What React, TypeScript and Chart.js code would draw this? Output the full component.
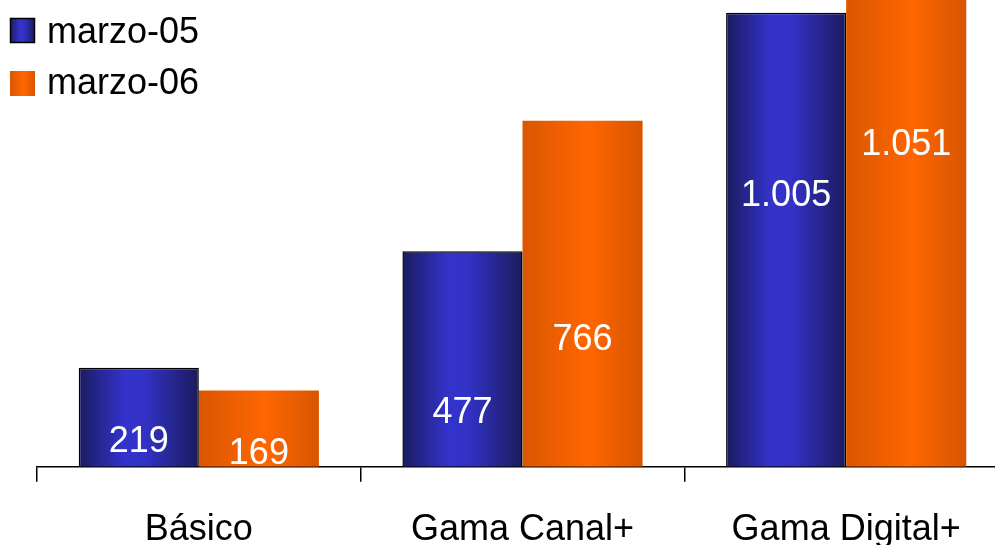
import { useEffect, useRef } from "react";
import { Chart, registerables } from "chart.js";

Chart.register(...registerables);

const categories = ["Básico", "Gama Canal+", "Gama Digital+"];
const seriesNames = ["marzo-05", "marzo-06"];
const values05 = [219, 477, 1005];
const values06 = [169, 766, 1051];
const valueLabels05 = ["219", "477", "1.005"];
const valueLabels06 = ["169", "766", "1.051"];
// baseline positions (in data units) of the value labels drawn inside the bars
const labelPos05 = [33, 97, 577];
const labelPos06 = [7, 259, 690];
const yMax = 1033;

const FONT = '"Liberation Sans", Arial, sans-serif';

const blueStops: [number, string][] = [
  [0, "#1b1b60"],
  [0.38, "#3333cc"],
  [0.55, "#3232c6"],
  [1, "#1b1b5e"],
];
const orangeStops: [number, string][] = [
  [0, "#da5700"],
  [0.55, "#ff6600"],
  [1, "#d85500"],
];

function makeGrad(ctx: CanvasRenderingContext2D, left: number, w: number, stops: [number, string][]) {
  const g = ctx.createLinearGradient(left, 0, left + w, 0);
  stops.forEach(([o, c]) => g.addColorStop(o, c));
  return g;
}

const customPlugin = {
  id: "customDraw",
  beforeDatasetsDraw(chart: any) {
    const ctx = chart.ctx;
    chart.data.datasets.forEach((_ds: any, di: number) => {
      const meta = chart.getDatasetMeta(di);
      const stops = di === 0 ? blueStops : orangeStops;
      meta.data.forEach((el: any) => {
        const w = el.width;
        const left = el.x - w / 2;
        el.options = Object.assign({}, el.options, {
          backgroundColor: makeGrad(ctx, left, w, stops),
        });
      });
    });
  },
  afterDatasetsDraw(chart: any) {
    const ctx = chart.ctx;
    const yScale = chart.scales.y;
    const sets = [
      { labels: valueLabels05, pos: labelPos05 },
      { labels: valueLabels06, pos: labelPos06 },
    ];
    ctx.save();
    ctx.fillStyle = "#ffffff";
    ctx.font = `36px ${FONT}`;
    ctx.textAlign = "center";
    ctx.textBaseline = "alphabetic";
    sets.forEach((s, di) => {
      const meta = chart.getDatasetMeta(di);
      meta.data.forEach((el: any, i: number) => {
        ctx.fillText(s.labels[i], el.x, yScale.getPixelForValue(s.pos[i]));
      });
    });
    ctx.restore();
  },
  afterDraw(chart: any) {
    const ctx = chart.ctx;
    ctx.save();
    const entries = [
      { name: seriesNames[0], stops: blueStops, border: true, boxTop: 18, baseline: 43 },
      { name: seriesNames[1], stops: orangeStops, border: false, boxTop: 71, baseline: 94 },
    ];
    entries.forEach((e) => {
      const x = 10;
      const s = 25;
      ctx.fillStyle = makeGrad(ctx, x, s, e.stops);
      ctx.fillRect(x, e.boxTop, s, s);
      if (e.border) {
        ctx.strokeStyle = "#000";
        ctx.lineWidth = 1.5;
        ctx.strokeRect(x + 0.5, e.boxTop + 0.5, s - 1, s - 1);
      }
      ctx.fillStyle = "#000";
      ctx.font = `36px ${FONT}`;
      ctx.textAlign = "left";
      ctx.textBaseline = "alphabetic";
      ctx.fillText(e.name, 47, e.baseline);
    });
    ctx.restore();
  },
};

export default function App() {
  const ref = useRef<HTMLCanvasElement>(null);
  useEffect(() => {
    if (!ref.current) return;
    const chart = new Chart(ref.current, {
      type: "bar",
      data: {
        labels: categories,
        datasets: [
          {
            label: seriesNames[0],
            data: values05,
            backgroundColor: "#3333cc",
            borderColor: "#000000",
            borderWidth: 1.5,
            borderSkipped: "bottom",
            categoryPercentage: 0.742,
            barPercentage: 1,
          },
          {
            label: seriesNames[1],
            data: values06,
            backgroundColor: "#ff6600",
            borderWidth: 0,
            categoryPercentage: 0.742,
            barPercentage: 1,
          },
        ],
      },
      options: {
        responsive: false,
        animation: false,
        devicePixelRatio: 1,
        layout: { padding: { left: 37, right: 0, top: 0, bottom: 0 } },
        plugins: { legend: { display: false }, tooltip: { enabled: false } },
        scales: {
          x: {
            grid: {
              display: true,
              drawOnChartArea: false,
              offset: true,
              tickLength: 15,
              color: "#000000",
              lineWidth: 1.5,
            },
            border: { display: true, color: "#000000", width: 1.5 },
            ticks: {
              color: "#000000",
              font: { family: FONT, size: 36 },
              padding: 27,
              maxRotation: 0,
            },
          },
          y: {
            display: false,
            min: 0,
            max: yMax,
          },
        },
      },
      plugins: [customPlugin],
    });
    return () => chart.destroy();
  }, []);
  return (
    <div
      style={{
        position: "fixed",
        left: 0,
        top: 0,
        width: 995,
        height: 545,
        overflow: "hidden",
        background: "#fff",
      }}
    >
      <canvas ref={ref} width={1008} height={579} style={{ display: "block", width: 1008, height: 579 }} />
    </div>
  );
}
